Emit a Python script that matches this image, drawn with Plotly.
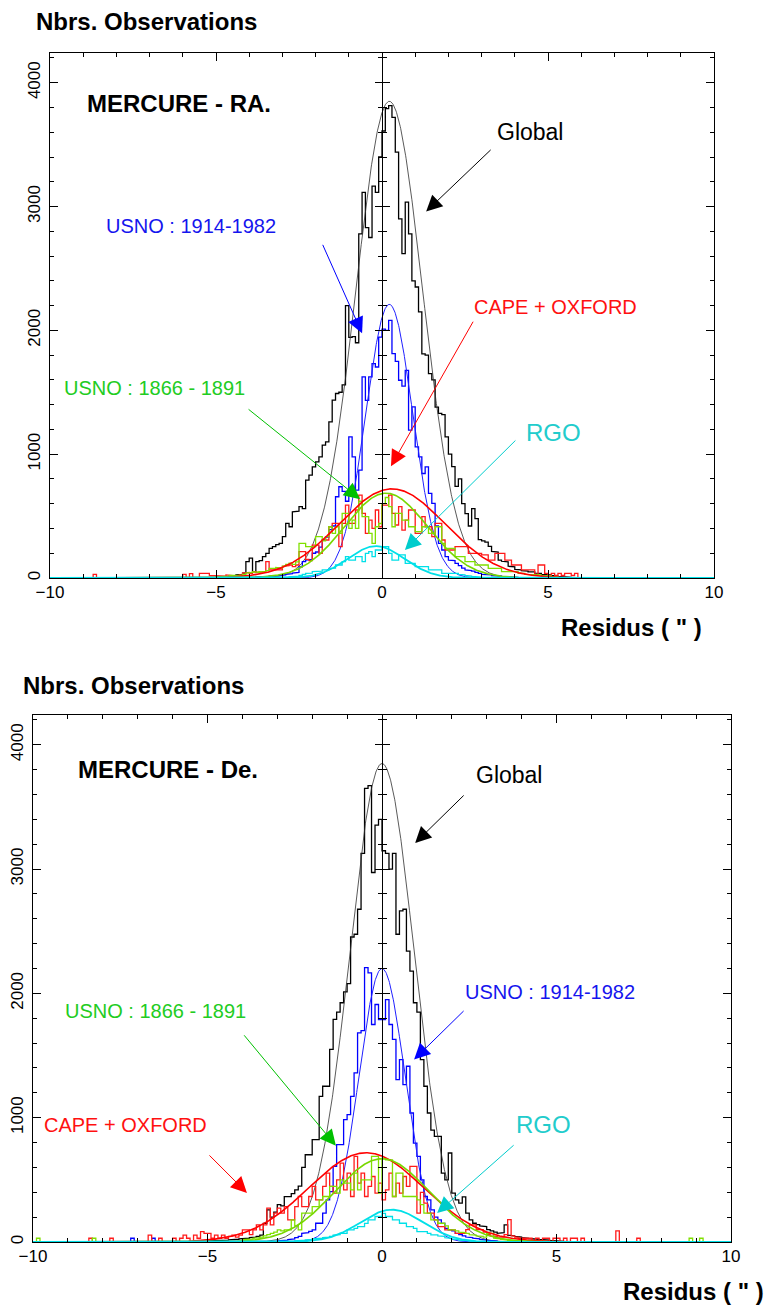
import numpy as np
import plotly.graph_objects as go

W, H = 766, 1306
BIN = 0.1          # histogram bin width, arcsec
Y_MAX = 4240

# ---------------------------------------------------------------- RA. panel
# counts per 0.1" bin; *_START is the left edge of the first bin
RA_GLOBAL_START = -5.0
RA_GLOBAL = [
    10, 12, 15, 12, 18, 22, 25, 30, 40, 132,
    160, 52, 132, 140, 172, 199, 240, 253, 270, 280,
    334, 441, 414, 535, 540, 576, 560, 791, 831, 898,
    938, 979, 1073, 1100, 1261, 1436, 1490, 1500, 1560, 2200,
    1943, 1950, 1900, 2780, 3115, 2830, 2750, 3165, 3115, 3400,
    3610, 3790, 3815, 3720, 3440, 2900, 2620, 3035, 2780, 2400,
    2350, 2150, 1810, 1800, 1650, 1600, 1380, 1330, 1320, 1140,
    1000, 900, 740, 800, 600, 520, 420, 560, 480, 310,
    300, 290, 255, 215, 210, 145, 135, 130, 95, 90,
    70, 65, 60, 55, 50, 50, 40, 38, 30, 25,
    25, 20, 15, 12, 10, 8, 6, 5, 4, 3,
]
RA_USNO2_START = -4.0
RA_USNO2 = [
    5, 5, 8, 10, 8, 12, 15, 15, 20, 22,
    25, 30, 35, 40, 45, 90, 132, 145, 150, 200,
    210, 250, 307, 330, 390, 420, 656, 737, 700, 620,
    1140, 979, 710, 871, 1624, 1435, 1624, 1731, 1704, 1946,
    2010, 2000, 2080, 1812, 1750, 1597, 1550, 1677, 1194, 1382,
    1059, 979, 844, 898, 683, 602, 420, 280, 226, 172,
    145, 140, 118, 100, 80, 65, 60, 55, 45, 38,
    30, 28, 25, 20, 18, 15, 12, 10, 8, 8,
    6, 5, 4, 3, 2,
]
RA_CAPE_START = -5.5
RA_CAPE = [
    38, 38, 38, 20, 20, 15, 20, 15, 25, 20,
    15, 20, 25, 40, 45, 38, 52, 45, 50, 52,
    132, 65, 65, 70, 65, 95, 100, 105, 92, 105,
    213, 213, 150, 140, 266, 266, 199, 307, 307, 414,
    441, 441, 253, 441, 589, 441, 441, 549, 670, 522,
    360, 468, 401, 549, 414, 589, 589, 670, 522, 428,
    576, 387, 468, 549, 549, 360, 360, 495, 414, 414,
    334, 441, 441, 307, 226, 226, 226, 253, 253, 253,
    253, 199, 199, 199, 199, 186, 186, 145, 145, 199,
    199, 199, 145, 145, 105, 105, 105, 65, 65, 65,
    65, 30, 105, 105, 38, 20, 38, 20, 38, 20,
    38, 38, 20, 38,
]
RA_CAPE_TAIL_X = [-8.7, -6.0, -5.8]
RA_CAPE_TAIL_N = [30, 30, 35]
RA_USNO1_START = -5.0
RA_USNO1 = [
    10, 12, 15, 15, 20, 20, 25, 20, 30, 40,
    45, 50, 45, 52, 50, 60, 78, 78, 85, 80,
    95, 110, 120, 110, 130, 280, 280, 253, 253, 253,
    334, 334, 300, 334, 414, 360, 414, 360, 522, 522,
    401, 468, 401, 620, 495, 495, 360, 280, 414, 440,
    600, 650, 576, 414, 522, 522, 468, 468, 414, 414,
    374, 374, 414, 414, 360, 360, 414, 414, 280, 240,
    240, 240, 172, 172, 172, 132, 132, 132, 105, 105,
    105, 105, 78, 78, 78, 78, 52, 52, 52, 52,
    52, 38, 38, 30, 25, 30, 25, 25, 20, 15,
    15, 10, 10,
]
RA_RGO_START = -2.8
RA_RGO = [
    10, 12, 15, 20, 30, 38, 40, 52, 52, 55,
    65, 65, 78, 80, 105, 105, 132, 172, 145, 145,
    172, 172, 132, 199, 213, 172, 226, 226, 253, 253,
    199, 145, 145, 186, 186, 118, 118, 118, 92, 92,
    92, 92, 65, 65, 65, 65, 38, 38, 38, 38,
    38, 30, 25, 20, 15, 12, 10, 8, 5,
]
# gaussian fits: Global, USNO 1914-1982, CAPE + OXFORD, USNO 1866-1891, RGO
RA_FIT_AMP = [3850, 2210, 720, 685, 258]
RA_FIT_MU = [0.22, 0.22, 0.30, 0.12, -0.18]
RA_FIT_SIGMA = [1.0, 0.70, 1.60, 1.25, 0.85]

# ---------------------------------------------------------------- De. panel
DE_GLOBAL_START = -5.0
DE_GLOBAL = [
    10, 10, 12, 12, 15, 15, 18, 20, 22, 25,
    28, 30, 35, 40, 45, 55, 150, 258, 200, 240,
    300, 290, 365, 365, 390, 420, 450, 600, 702, 702,
    823, 823, 1172, 1253, 1253, 1549, 1791, 1850, 1925, 2013,
    2078, 2454, 2476, 2677, 3126, 3650, 3672, 2973, 3354, 3400,
    3148, 3126, 3000, 3126, 2476, 2664, 2677, 2341, 2180, 1925,
    1850, 1468, 1253, 1038, 900, 850, 850, 554, 500, 716,
    393, 339, 312, 363, 232, 178, 151, 140, 130, 124,
    100, 90, 80, 70, 75, 137, 55, 50, 45, 40,
    35, 30, 28, 25, 22, 20, 18, 15, 12, 10,
    8, 6, 5, 4, 3,
]
DE_USNO2_START = -3.0
DE_USNO2 = [
    10, 12, 15, 20, 25, 35, 45, 70, 75, 85,
    97, 151, 151, 232, 339, 406, 608, 783, 783, 984,
    1025, 1172, 1361, 1683, 1700, 2207, 2166, 1750, 1911, 1790,
    1790, 1950, 1750, 1630, 1307, 1468, 1266, 1414, 1038, 796,
    689, 500, 366, 339, 259, 200, 178, 150, 110, 97,
    90, 70, 60, 50, 40, 35, 30, 25, 20, 15,
    12, 10, 8,
]
DE_USNO2_TAIL_X = [-7.2, -6.6]
DE_USNO2_TAIL_N = [30, 30]
DE_CAPE_START = -6.0
DE_CAPE = [
    30, 0, 30, 56, 30, 0, 56, 30, 84, 70,
    70, 30, 56, 30, 56, 30, 45, 56, 40, 56,
    97, 97, 60, 97, 137, 97, 137, 272, 137, 232,
    272, 232, 285, 178, 178, 285, 366, 285, 285, 366,
    447, 339, 339, 447, 554, 447, 393, 500, 635, 420,
    554, 366, 689, 474, 554, 366, 447, 527, 393, 474,
    339, 420, 554, 366, 474, 393, 527, 447, 608, 608,
    232, 400, 312, 232, 232, 178, 124, 124, 97, 97,
    97, 70, 70, 70, 100, 137, 137, 100, 100, 80,
    60, 50, 45, 40, 40, 60, 180, 50, 40, 30,
    30, 30, 30, 0, 30, 0, 30, 30, 0, 30,
    30, 0, 30, 0, 30, 30, 0, 30,
]
DE_CAPE_TAIL_X = [-8.4, -7.8, -6.7, -6.4, 6.7, 7.3]
DE_CAPE_TAIL_N = [30, 30, 56, 30, 90, 30]
DE_USNO1_START = -4.0
DE_USNO1 = [
    20, 25, 25, 30, 35, 40, 50, 60, 70, 80,
    97, 90, 97, 97, 178, 130, 97, 232, 232, 232,
    285, 285, 339, 366, 366, 447, 447, 393, 500, 474,
    474, 420, 554, 420, 500, 500, 500, 689, 689, 393,
    675, 661, 661, 366, 554, 554, 366, 366, 366, 366,
    339, 300, 232, 232, 178, 178, 151, 151, 130, 97,
    97, 90, 80, 75, 70, 60, 55, 50, 45, 40,
    70, 70, 30, 25, 20, 15, 12, 10,
]
DE_USNO1_TAIL_X = [-9.9, -8.3, 8.8, 9.1]
DE_USNO1_TAIL_N = [30, 30, 30, 30]
DE_RGO_START = -2.5
DE_RGO = [
    10, 12, 15, 18, 20, 25, 28, 30, 35, 40,
    45, 55, 60, 70, 70, 97, 97, 110, 124, 124,
    150, 178, 178, 205, 205, 230, 205, 205, 178, 178,
    151, 151, 124, 124, 110, 84, 84, 84, 70, 57,
    57, 50, 45, 35, 30, 25, 20, 15, 12, 10, 8,
]
DE_FIT_AMP = [3850, 2200, 718, 670, 260]
DE_FIT_MU = [0.0, 0.0, -0.45, 0.0, 0.28]
DE_FIT_SIGMA = [0.92, 0.66, 1.65, 1.35, 0.9]

# ---------------------------------------------------------------- styling
HIST_COLORS = ["#000000", "#0000ff", "#ff1a1a", "#80e000", "#00e0e8"]
FIT_COLORS = ["#303030", "#2020ff", "#ff0000", "#78d800", "#00e0e8"]
FIT_WIDTHS = [0.8, 1.0, 1.6, 1.6, 1.8]
LABEL_COLORS = ["#000000", "#1515ee", "#ff1010", "#22cc22", "#22cccc"]
ARROW_COLORS = ["#000000", "#0000ff", "#ff0000", "#00c000", "#00cccc"]

SANS = "Liberation Sans, Arial, Helvetica, sans-serif"

TOP = dict(left=50, right=714, top=53, bottom=578)
BOT = dict(left=33, right=731, top=715, bottom=1242)


def step_path(start, counts, tail_x=(), tail_n=()):
    """Outline of a histogram running along the baseline from -10 to 10."""
    xs, ys = [-10.0, start], [0, 0]
    for i, c in enumerate(counts):
        lo = round(start + i * BIN, 3)
        xs += [lo, round(lo + BIN, 3)]
        ys += [c, c]
    end = round(start + len(counts) * BIN, 3)
    xs += [end, 10.0]
    ys += [0, 0]
    for x0, c in zip(tail_x, tail_n):
        xs += [None, x0, x0, x0 + BIN, x0 + BIN]
        ys += [None, 0, c, c, 0]
    return xs, ys


def gauss(x, a, mu, s):
    return a * np.exp(-0.5 * ((x - mu) / s) ** 2)


XF = np.linspace(-10, 10, 1601)

fig = go.Figure()


def add_panel(xa, ya, hists, amps, mus, sigmas):
    # draw order: Global, 1914-1982, CAPE, 1866-1891, RGO ; fits after each histogram
    order = [(0, "h"), (0, "f"), (1, "h"), (1, "f"), (2, "h"), (3, "h"),
             (2, "f"), (3, "f"), (4, "h"), (4, "f")]
    for k, kind in order:
        if kind == "h":
            xs, ys = step_path(*hists[k])
            fig.add_trace(go.Scatter(x=xs, y=ys, mode="lines", xaxis=xa, yaxis=ya,
                                     line=dict(color=HIST_COLORS[k], width=1.3),
                                     connectgaps=False, showlegend=False, hoverinfo="skip"))
        else:
            fig.add_trace(go.Scatter(x=XF, y=gauss(XF, amps[k], mus[k], sigmas[k]),
                                     mode="lines", xaxis=xa, yaxis=ya,
                                     line=dict(color=FIT_COLORS[k], width=FIT_WIDTHS[k]),
                                     showlegend=False, hoverinfo="skip"))


add_panel("x", "y",
          [(RA_GLOBAL_START, RA_GLOBAL), (RA_USNO2_START, RA_USNO2),
           (RA_CAPE_START, RA_CAPE, RA_CAPE_TAIL_X, RA_CAPE_TAIL_N),
           (RA_USNO1_START, RA_USNO1), (RA_RGO_START, RA_RGO)],
          RA_FIT_AMP, RA_FIT_MU, RA_FIT_SIGMA)
add_panel("x2", "y2",
          [(DE_GLOBAL_START, DE_GLOBAL),
           (DE_USNO2_START, DE_USNO2, DE_USNO2_TAIL_X, DE_USNO2_TAIL_N),
           (DE_CAPE_START, DE_CAPE, DE_CAPE_TAIL_X, DE_CAPE_TAIL_N),
           (DE_USNO1_START, DE_USNO1, DE_USNO1_TAIL_X, DE_USNO1_TAIL_N),
           (DE_RGO_START, DE_RGO)],
          DE_FIT_AMP, DE_FIT_MU, DE_FIT_SIGMA)

# empty traces so the central (x = 0) axes get drawn
for xa, ya in [("x", "y3"), ("x", "y4"), ("x2", "y5"), ("x2", "y6")]:
    fig.add_trace(go.Scatter(x=[None], y=[None], xaxis=xa, yaxis=ya,
                             showlegend=False, hoverinfo="skip"))

tickfont = dict(family=SANS, size=17, color="black")


def xaxis_cfg(box, anchor):
    return dict(domain=[box["left"] / W, box["right"] / W], range=[-10, 10], anchor=anchor,
                tickmode="linear", tick0=0, dtick=5, ticks="inside", ticklen=8,
                tickwidth=1, tickcolor="black",
                minor=dict(dtick=1, tick0=0, ticks="inside", ticklen=4, tickwidth=1,
                           tickcolor="black"),
                showline=True, linecolor="black", linewidth=1, mirror="ticks",
                showgrid=False, zeroline=False, tickfont=tickfont,
                ticklabelstandoff=-1, automargin=False)


def yaxis_cfg(box, anchor):
    return dict(domain=[1 - box["bottom"] / H, 1 - box["top"] / H], range=[0, Y_MAX],
                anchor=anchor, tickmode="linear", tick0=0, dtick=1000, ticks="inside",
                ticklen=8, tickwidth=1, tickcolor="black",
                minor=dict(dtick=200, tick0=0, ticks="inside", ticklen=4, tickwidth=1,
                           tickcolor="black"),
                showline=True, linecolor="black", linewidth=1, mirror="ticks",
                showgrid=False, zeroline=False, tickfont=tickfont, tickangle=-90,
                ticklabelstandoff=2, automargin=False)


def center_axis(over, side):
    return dict(overlaying=over, anchor="free", position=382 / W, side=side,
                range=[0, Y_MAX], tickmode="linear", tick0=0, dtick=1000,
                ticks="outside", ticklen=7, tickwidth=1, tickcolor="black",
                minor=dict(dtick=200, tick0=0, ticks="outside", ticklen=4, tickwidth=1,
                           tickcolor="black"),
                showticklabels=False, showline=True, linecolor="black", linewidth=1,
                showgrid=False, zeroline=False, automargin=False)


fig.update_layout(
    width=W, height=H, margin=dict(l=0, r=0, t=0, b=0, autoexpand=False),
    paper_bgcolor="white", plot_bgcolor="white", showlegend=False,
    xaxis=xaxis_cfg(TOP, "y"), yaxis=yaxis_cfg(TOP, "x"),
    xaxis2=xaxis_cfg(BOT, "y2"), yaxis2=yaxis_cfg(BOT, "x2"),
    yaxis3=center_axis("y", "left"), yaxis4=center_axis("y", "right"),
    yaxis5=center_axis("y2", "left"), yaxis6=center_axis("y2", "right"),
)

ann = []


def paper_text(text, px, py, xanchor, size=24):
    ann.append(dict(text="<b>%s</b>" % text, x=px / W, y=1 - py / H, xref="paper",
                    yref="paper", xanchor=xanchor, yanchor="middle", showarrow=False,
                    font=dict(family=SANS, size=size, color="black")))


paper_text("Nbrs. Observations", 34, 21, "left")
paper_text("MERCURE - RA.", 85, 104, "left")
paper_text("Residus ( \" )", 704, 627, "right")
paper_text("Nbrs. Observations", 21, 685, "left")
paper_text("MERCURE - De.", 76, 770, "left")
paper_text("Residus ( \" )", 766, 1291, "right")

LABELS = ["Global", "USNO : 1914-1982", "CAPE + OXFORD", "USNO : 1866 - 1891", "RGO"]
LABEL_SIZES = [23, 20, 20, 20, 24]

# label centres (data units) and arrows (tip in data units, tail offset in px)
RA_LABEL_POS = [(4.46, 3605), (-5.75, 2839), (5.24, 2185), (-6.84, 1532), (5.18, 1177)]
RA_ARROW_TIP = [(1.33, 2960), (-0.60, 1976), (0.27, 903), (-0.66, 637), (0.69, 226)]
RA_ARROW_TAIL = [(66, -63), (-40, -90), (83, -146), (-113, -91), (112, -111)]
DE_LABEL_POS = [(3.64, 3758), (4.81, 2008), (-7.34, 944), (-6.50, 1855), (4.64, 944)]
DE_ARROW_TIP = [(0.95, 3210), (0.92, 1468), (-3.87, 395), (-1.32, 774), (1.58, 234)]
DE_ARROW_TAIL = [(50, -49), (51, -50), (-39, -39), (-93, -112), (78, -69)]

for xr, yr, pos, tips, tails in [("x", "y", RA_LABEL_POS, RA_ARROW_TIP, RA_ARROW_TAIL),
                                  ("x2", "y2", DE_LABEL_POS, DE_ARROW_TIP, DE_ARROW_TAIL)]:
    for k in range(5):
        ann.append(dict(text=LABELS[k], x=pos[k][0], y=pos[k][1], xref=xr, yref=yr,
                        showarrow=False, xanchor="center", yanchor="middle",
                        font=dict(family=SANS, size=LABEL_SIZES[k], color=LABEL_COLORS[k])))
        ann.append(dict(text="", x=tips[k][0], y=tips[k][1], xref=xr, yref=yr,
                        ax=tails[k][0], ay=tails[k][1], showarrow=True, arrowhead=2,
                        arrowsize=3.2, arrowwidth=1, arrowcolor=ARROW_COLORS[k],
                        standoff=0))

fig.update_layout(annotations=ann)
fig.write_html("out.html")
